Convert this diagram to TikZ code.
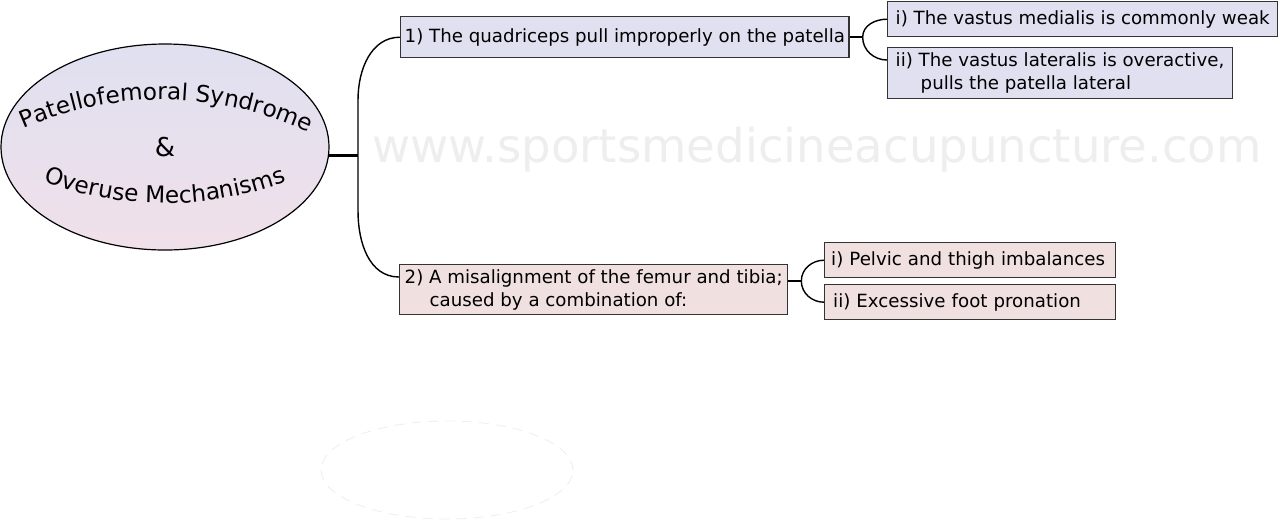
\documentclass[tikz,border=0pt]{standalone}
\usepackage{fontspec}
\setmainfont{DejaVu Sans}
\usetikzlibrary{shapes.geometric,decorations.text,calc}
\definecolor{mapblue}{HTML}{E0E0F0}
\definecolor{mappink}{HTML}{F0E0E0}
\definecolor{maprose}{HTML}{F0E0EA}
\definecolor{boxline}{HTML}{333333}
\definecolor{faint}{HTML}{EEEEEE}
\newcommand{\rootfont}{\fontsize{11.6}{14}\selectfont}

\begin{document}
\begin{tikzpicture}[x=0.5pt, y=0.5pt,
    topic/.style={draw=boxline, line width=0.7pt, anchor=north west, align=left,
      inner xsep=4pt, inner ysep=0pt, font=\fontsize{9.1}{11.5}\selectfont},
    first/.style={topic, fill=mapblue},
    second/.style={topic, fill=mappink},
    link/.style={line width=0.7pt},
    stem/.style={line width=1.2pt}]
  \fill[white] (0,0) rectangle (1280,-521);
  \useasboundingbox (0,0) rectangle (1280,-521);
  % watermark
  \node[anchor=base west, inner sep=0pt, text=faint, font=\fontsize{23.3}{28}\selectfont] (mark) at (372,-162) {www.sportsmedicineacupuncture.com};
  \draw[faint, dash pattern=on 5pt off 3.5pt] (447,-470) ellipse [x radius=63pt, y radius=24.5pt];
  % central topic
  \node[ellipse, draw, line width=0.6pt, top color=mapblue, bottom color=maprose,
    minimum width=164pt, minimum height=103pt, inner sep=0pt, font=\fontsize{13}{15}\selectfont] (root) at (165,-147) {\&};
  \path[decorate, decoration={text along path, text align=center,
    text={|\rootfont|Patellofemoral Syndrome}}] (20,-130) .. controls (110,-89) and (220,-89) .. (312,-134);
  \path[decorate, decoration={text along path, text align=center,
    text={|\rootfont|Overuse Mechanisms}}] (40,-180) .. controls (120,-211) and (210,-211) .. (290,-180);
  % main branches
  \node[first, minimum height=20.5pt, inner xsep=2pt] (quad) at (400,-16) {1) The quadriceps pull improperly on the patella};
  \node[second, minimum height=25pt, inner xsep=2.5pt] (misalign) at (399,-264) {2) A misalignment of the femur and tibia;\\\hspace*{12.5pt}caused by a combination of:};
  % sub branches
  \node[first, minimum height=17.5pt] (quadA) at (887,-1) {i) The vastus medialis is commonly weak};
  \node[first, minimum height=25.5pt] (quadB) at (887,-47) {ii) The vastus lateralis is overactive,\\\hspace*{12.5pt}pulls the patella lateral};
  \node[second, minimum height=17.5pt, inner xsep=3.25pt, text width=139pt] (misA) at (824,-242) {i) Pelvic and thigh imbalances};
  \node[second, minimum height=17.5pt, inner xsep=3.25pt, text width=139pt] (misB) at (824,-284) {\hspace*{1pt}ii) Excessive foot pronation};
  % connectors
  \draw[stem] (root.-3) -- ++(29,0) coordinate (fork);
  \draw[link] (fork) -- ++(0,56) to[out=90, in=180] (quad.west);
  \draw[link] (fork) -- ++(0,-56) to[out=-90, in=180] ($(misalign.north west)+(0,-13)$);
  \draw[stem] (quad.east) -- ++(13,0) coordinate (quadfork);
  \draw[link] (quadfork) to[out=90, in=180] (quadA.west);
  \draw[link] (quadfork) to[out=-90, in=180] ($(quadB.north west)+(0,-13)$);
  \draw[stem] ($(misalign.north east)+(0,-17)$) -- ++(13,0) coordinate (misfork);
  \draw[link] (misfork) to[out=90, in=180] (misA.west);
  \draw[link] (misfork) to[out=-90, in=180] (misB.west);
\end{tikzpicture}
\end{document}
